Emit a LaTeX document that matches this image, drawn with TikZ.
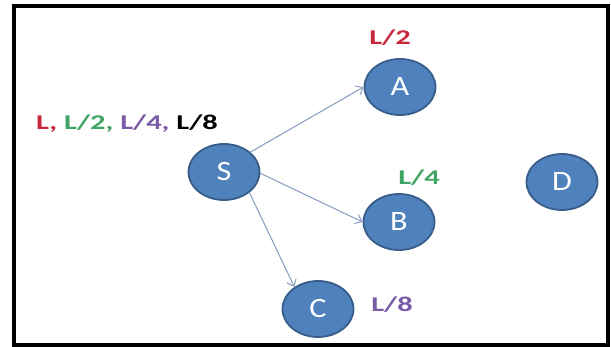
\documentclass[tikz,border=0pt]{standalone}
\usepackage{fontspec}
\setmainfont{Carlito}
\usetikzlibrary{shapes.geometric,arrows.meta}

\definecolor{nodefill}{HTML}{4F81BD}
\definecolor{nodeedge}{HTML}{385D8A}
\definecolor{linkcol}{HTML}{8DA2C4}
\definecolor{redlbl}{HTML}{C8283C}
\definecolor{greenlbl}{HTML}{3FA466}
\definecolor{purplelbl}{HTML}{7A5AA6}

\tikzset{
  vertex/.style={ellipse, fill=nodefill, draw=nodeedge, line width=1.8pt,
    minimum width=71pt, minimum height=56pt, inner sep=0pt, text=white,
    font=\fontsize{28}{28}\selectfont},
  link/.style={draw=linkcol, line width=1.1pt,
    -{Straight Barb[length=6pt,width=10pt,line width=1.1pt]}},
  budget/.style={font=\bfseries\fontsize{21}{21}\selectfont, inner sep=0pt}
}

\newcommand{\wide}[1]{\scalebox{1.45}[1]{#1}}
\newcommand{\letter}[1]{\scalebox{1.15}[1]{#1}}

\begin{document}
\begin{tikzpicture}[x=1pt,y=-1pt]
  \useasboundingbox (0,0) rectangle (611,347);
  % outer frame
  \draw[line width=4pt] (14,6) rectangle (608,345);

  % vertices
  \node[vertex] (S) at (224,172) {\letter{S}};
  \node[vertex] (A) at (400,87)  {\letter{A}};
  \node[vertex] (B) at (399,222) {\letter{B}};
  \node[vertex] (C) at (318,309) {\letter{C}};
  \node[vertex] (D) at (562,182) {\letter{D}};

  % links from the source
  \draw[link] (S.37) -- (A.west);
  \draw[link] (S.-2) -- (B.west);
  \draw[link] (S.-39) -- (C.137);

  % budget labels
  \node[budget] (lS) at (127,124) {\wide{\textcolor{redlbl}{L,} \textcolor{greenlbl}{L/2,} \textcolor{purplelbl}{L/4,} L/8}};
  \node[budget, text=redlbl] (lA) at (390,38) {\wide{L/2}};
  \node[budget, text=greenlbl] (lB) at (419,178) {\wide{L/4}};
  \node[budget, text=purplelbl] (lC) at (392,305) {\wide{L/8}};
\end{tikzpicture}
\end{document}
